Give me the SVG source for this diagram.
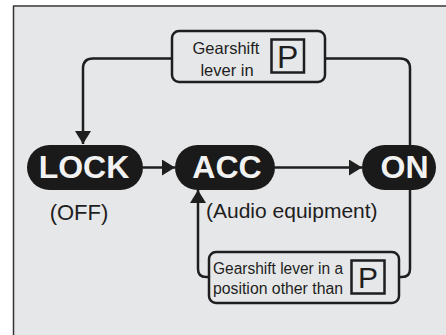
<svg xmlns="http://www.w3.org/2000/svg" width="446" height="335" viewBox="0 0 446 335">
<style>
.ln{fill:none;stroke:#1e1e1e;stroke-width:2.5}
.box{fill:#e6e7e8;stroke:#1e1e1e;stroke-width:2.5}
.pill{fill:#1a1a1a}
.big{font-family:"Liberation Sans",Arial,sans-serif;font-weight:bold;font-size:32px;fill:#f2f2f2;text-anchor:middle}
.lab{font-family:"Liberation Sans",Arial,sans-serif;fill:#1e1e1e}
</style>
<defs>
<marker id="ah" markerWidth="13" markerHeight="16" refX="13" refY="8" orient="auto" markerUnits="userSpaceOnUse">
<path d="M0,0 L13,8 L0,16 Z" fill="#1e1e1e"/>
</marker>
</defs>
<rect x="0" y="0" width="446" height="335" fill="#ffffff"/>
<rect x="13" y="6" width="440" height="340" fill="#e6e7e8"/>
<line x1="13" y1="6" x2="446" y2="6" stroke="#666" stroke-width="2"/>
<line x1="13.5" y1="6" x2="13.5" y2="335" stroke="#333" stroke-width="1.5"/>

<g id="connectors">
<path class="ln" d="M172,58.5 H93 Q83,58.5 83,68.5 V144" marker-end="url(#ah)"/>
<path class="ln" d="M325,58.5 H400 Q410,58.5 410,68.5 V145"/>
<path class="ln" d="M410,190 V269 Q410,277 402,277 H399"/>
<path class="ln" d="M143,167.5 H175" marker-end="url(#ah)"/>
<path class="ln" d="M275,167.5 H362" marker-end="url(#ah)"/>
<path class="ln" d="M209,277 H206 Q198,277 198,269 V190" marker-end="url(#ah)"/>
</g>

<g id="lock">
<rect class="pill" x="27" y="145" width="116" height="45" rx="22.5"/>
<text class="big" x="84" y="178">LOCK</text>
<text class="lab" x="79" y="219.5" font-size="22" text-anchor="middle">(OFF)</text>
</g>
<g id="acc">
<rect class="pill" x="175" y="145" width="100" height="45" rx="22.5"/>
<text class="big" x="227" y="178">ACC</text>
<text class="lab" x="206" y="217.5" font-size="21">(Audio equipment)</text>
</g>
<g id="on">
<rect class="pill" x="362" y="145" width="74" height="45" rx="22.5"/>
<text class="big" x="404.5" y="178">ON</text>
</g>

<g id="top-condition">
<rect class="box" x="172" y="31" width="153" height="51" rx="7"/>
<text class="lab" x="226" y="54" font-size="16.5" text-anchor="middle">Gearshift</text>
<text class="lab" x="227" y="75.5" font-size="16.5" text-anchor="middle">lever in</text>
<rect x="271.5" y="39.5" width="32.5" height="33" fill="none" stroke="#1e1e1e" stroke-width="2.5"/>
<text class="lab" x="287.7" y="68" font-size="32" text-anchor="middle">P</text>
</g>

<g id="bottom-condition">
<rect class="box" x="209" y="252" width="190" height="51" rx="7"/>
<text class="lab" x="213" y="274" font-size="16" textLength="130" lengthAdjust="spacingAndGlyphs">Gearshift lever in a</text>
<text class="lab" x="213" y="294" font-size="16" textLength="130" lengthAdjust="spacingAndGlyphs">position other than</text>
<rect x="351.5" y="260.5" width="33" height="33" fill="none" stroke="#1e1e1e" stroke-width="2.5"/>
<text class="lab" x="368" y="288" font-size="30" text-anchor="middle">P</text>
</g>
</svg>
